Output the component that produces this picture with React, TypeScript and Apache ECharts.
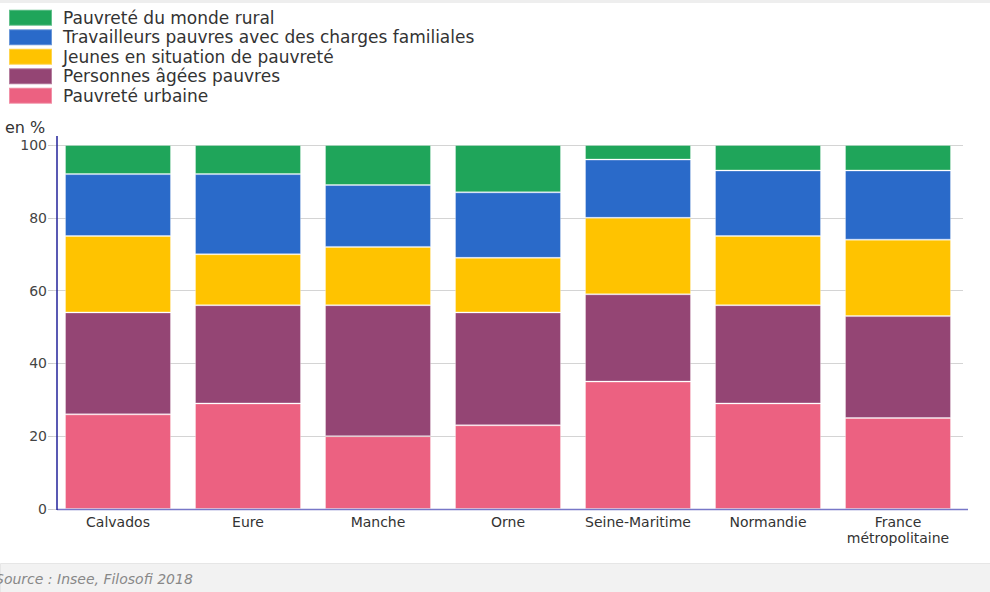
import React, { useEffect, useRef } from "react";
import * as echarts from "echarts";

const categories = ["Calvados", "Eure", "Manche", "Orne", "Seine-Maritime", "Normandie", "France\nmétropolitaine"];
const urbaine = [26, 29, 20, 23, 35, 29, 25];
const agees = [28, 27, 36, 31, 24, 27, 28];
const jeunes = [21, 14, 16, 15, 21, 19, 21];
const travailleurs = [17, 22, 17, 18, 16, 18, 19];
const rural = [8, 8, 11, 13, 4, 7, 7];
const yTicks = [0, 20, 40, 60, 80, 100];

const seriesNames = [
  "Pauvreté urbaine",
  "Personnes âgées pauvres",
  "Jeunes en situation de pauvreté",
  "Travailleurs pauvres avec des charges familiales",
  "Pauvreté du monde rural",
];
const seriesData = [urbaine, agees, jeunes, travailleurs, rural];
const seriesColors = ["#EC6181", "#944574", "#FFC300", "#2A6AC9", "#1FA55A"];
const legendOrder = [...seriesNames].reverse();

const FONT = "'DejaVu Sans', 'Noto Sans', sans-serif";

export default function App() {
  const ref = useRef<HTMLDivElement>(null);
  useEffect(() => {
    if (!ref.current) return;
    const chart = echarts.init(ref.current, null, { renderer: "svg" });
    chart.setOption({
      animation: false,
      backgroundColor: "#ffffff",
      textStyle: { fontFamily: FONT },
      legend: {
        orient: "vertical",
        left: 3,
        top: 3,
        itemWidth: 43,
        itemHeight: 16,
        itemGap: 0,
        icon: "rect",
        data: legendOrder,
        selectedMode: false,
        textStyle: {
          fontFamily: FONT,
          fontSize: 17,
          color: "#333333",
          lineHeight: 19.5,
          padding: [0, 0, 0, 6],
        },
      },
      grid: { left: 53, right: 27, top: 145, bottom: 83, containLabel: false },
      xAxis: {
        type: "category",
        data: categories,
        axisLine: { show: false },
        axisTick: { show: false },
        axisLabel: {
          color: "#333333",
          fontFamily: FONT,
          fontSize: 14,
          margin: 5,
          lineHeight: 16,
          interval: 0,
        },
      },
      yAxis: {
        type: "value",
        min: yTicks[0],
        max: yTicks[yTicks.length - 1],
        interval: 20,
        axisLine: { show: false },
        axisTick: { show: true, length: 5, lineStyle: { color: "#cccccc" } },
        axisLabel: { color: "#444444", fontFamily: FONT, fontSize: 14, margin: 6 },
        splitLine: { show: true, lineStyle: { color: "#d4d4d4", width: 1 } },
      },
      series: seriesNames.map((name, i) => ({
        name,
        type: "bar",
        stack: "total",
        barCategoryGap: "18.5%",
        data: seriesData[i],
        itemStyle: {
          color: seriesColors[i],
          borderColor: "rgba(255,255,255,0.3)",
          borderWidth: 1,
        },
      })),
      graphic: [
        {
          type: "rect",
          left: 0,
          top: 0,
          shape: { width: 990, height: 3 },
          style: { fill: "#eeeeee" },
          silent: true,
        },
        {
          type: "line",
          shape: { x1: 57, y1: 509.5, x2: 968, y2: 509.5 },
          style: { stroke: "#7777c8", lineWidth: 1.5 },
          silent: true,
          z: 10,
        },
        {
          type: "line",
          shape: { x1: 57, y1: 136, x2: 57, y2: 510 },
          style: { stroke: "#22229a", lineWidth: 1.5 },
          silent: true,
          z: 11,
        },
        {
          type: "rect",
          left: 0,
          top: 563,
          shape: { width: 990, height: 29 },
          style: { fill: "#f2f2f2", stroke: "#e6e6e6", lineWidth: 1 },
          silent: true,
        },
        {
          type: "text",
          x: 5,
          y: 127,
          style: {
            text: "en %",
            fontFamily: FONT,
            fontSize: 16,
            fill: "#333333",
            verticalAlign: "middle",
          },
        },
        {
          type: "text",
          x: -5,
          y: 579,
          style: {
            text: "Source : Insee, Filosofi 2018",
            fontFamily: FONT,
            fontStyle: "italic",
            fontSize: 14,
            fill: "#888888",
            verticalAlign: "middle",
          },
        },
      ],
    });
    return () => chart.dispose();
  }, []);
  return (
    <div
      ref={ref}
      style={{ position: "fixed", left: 0, top: 0, width: 990, height: 592 }}
    />
  );
}
